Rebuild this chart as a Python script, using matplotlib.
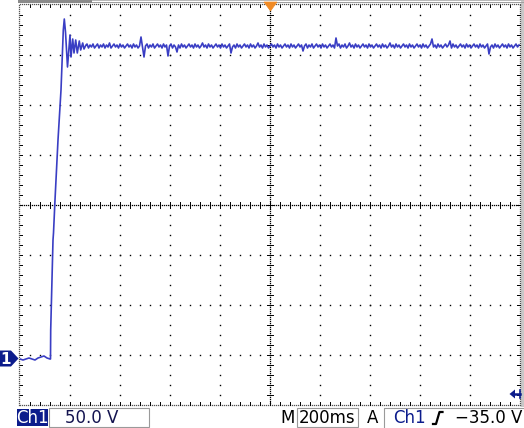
import numpy as np
import matplotlib
matplotlib.use("Agg")
import matplotlib.pyplot as plt
from matplotlib.patches import Polygon, Rectangle

# Scope screen geometry in pixels (layout only)
W, H = 524, 428
GX0, GX1, GY0, GY1 = 20, 520, 5, 405
DIV = 50

# Ch1 capture, 200 ms/div and 50 V/div, ground marker 1 at 0 V
T_LIM = (-1.0, 1.0)
V_LIM = (-46, 354)

# flat 0 V before the edge, one sample every 12 ms from the left edge
t_pre_start = -1.0
PRE_SAMPLE = 0.012
v_pre = [0, -1, 0, 1, 0, -1, 1, 2, 3, 1, 0]

# rising edge and ringing
t_edge = [-0.878, -0.8772, -0.874, -0.868, -0.866, -0.860, -0.848, -0.836,
          -0.8268, -0.8228, -0.818, -0.810, -0.800, -0.796, -0.7892, -0.784,
          -0.7772, -0.7708, -0.7628, -0.7572, -0.7492, -0.744, -0.736]
v_edge = [0, 29, 59, 119, 126, 159, 219, 269,
          329, 340, 327, 292, 324, 302, 320, 306,
          319, 306, 318, 309, 316, 310, 314]

# settled level with noise, one sample every 6 ms
t_flat_start = -0.732
FLAT_SAMPLE = 0.006
v_flat = [
    315, 311, 314, 312, 315, 311, 313, 315, 311, 314, 312, 315, 311, 314, 312, 316, 311, 313, 315, 312,
    314, 311, 315, 312, 314, 311, 313, 315, 312, 314, 311, 315, 312, 314, 311, 313, 322, 312, 302, 313,
    315, 311, 314, 312, 315, 311, 313, 315, 312, 314, 311, 315, 312, 314, 303, 313, 315, 311, 314, 312,
    307, 314, 311, 315, 312, 314, 311, 313, 315, 312, 314, 311, 315, 312, 314, 311, 313, 316, 312, 314,
    311, 315, 312, 314, 311, 313, 315, 312, 314, 311, 315, 312, 314, 311, 313, 315, 306, 312, 314, 311,
    315, 312, 314, 311, 313, 315, 312, 314, 311, 315, 312, 314, 311, 313, 316, 312, 314, 311, 315, 312,
    314, 311, 313, 315, 312, 314, 311, 315, 312, 314, 311, 313, 315, 312, 314, 311, 315, 312, 314, 311,
    313, 315, 312, 314, 308, 313, 315, 311, 314, 312, 315, 311, 313, 315, 312, 314, 311, 315, 312, 314,
    311, 313, 315, 312, 314, 311, 321, 313, 315, 311, 314, 312, 315, 311, 313, 316, 312, 314, 311, 315,
    312, 314, 311, 313, 315, 312, 314, 311, 315, 312, 314, 311, 313, 315, 312, 314, 311, 315, 312, 314,
    311, 313, 316, 312, 314, 311, 315, 312, 314, 311, 313, 315, 312, 314, 311, 315, 312, 314, 311, 313,
    315, 312, 314, 311, 315, 312, 314, 311, 313, 315, 320, 312, 314, 311, 315, 312, 314, 311, 313, 315,
    312, 314, 318, 311, 315, 312, 314, 311, 313, 315, 312, 314, 311, 315, 312, 314, 311, 313, 315, 312,
    314, 311, 315, 312, 314, 311, 313, 315, 305, 312, 314, 311, 315, 312, 314, 311, 313, 315, 312, 314,
    311, 315, 312, 314, 311, 313, 315, 312, 314,
]

ch_label = "Ch1"
volts_div = "50.0 V"
time_div = "200ms"
trig_level = "\u221235.0 V"

TRACE = "#3a3ec4"
NAVY = "#0c1c8c"
DOT = "black"

fig = plt.figure(figsize=(W / 100, H / 100), dpi=100)
fig.patch.set_facecolor("white")

# background layer in pixel units
bg = fig.add_axes([0, 0, 1, 1])
bg.set_xlim(0, W)
bg.set_ylim(H, 0)
bg.axis("off")


def dots(xs, ys, size=1.0, color=DOT):
    bg.plot(xs, ys, ls="none", marker="s", ms=size, mew=0, color=color)


# ordinary graticule lines, a dot every 1/5 division
for gx in range(GX0 + DIV, GX1, DIV):
    if gx == 270:
        continue
    ys = np.arange(GY0 + 10, GY1, 10)
    dots(np.full(len(ys), gx), ys)
for gy in range(GY0 + DIV, GY1, DIV):
    if gy == 205:
        continue
    xs = np.arange(GX0 + 10, GX1, 10)
    dots(xs, np.full(len(xs), gy))

# centre cross, dense dots with small ticks
xs = np.arange(GX0, GX1, 2)
dots(xs, np.full(len(xs), 205), size=0.9)
ys = np.arange(GY0, GY1, 2)
dots(np.full(len(ys), 270), ys, size=0.9)
for tx in range(GX0 + 10, GX1, 10):
    bg.plot([tx, tx], [202, 208], color=DOT, lw=0.7)
for ty in range(GY0 + 10, GY1, 10):
    bg.plot([267, 273], [ty, ty], color=DOT, lw=0.7)

# border, dense dots with inward ticks
xs = np.arange(GX0, GX1 + 1, 2)
dots(xs, np.full(len(xs), GY0 - 1), size=0.9, color="#555555")
dots(xs, np.full(len(xs), GY1), size=0.9, color="#555555")
ys = np.arange(GY0, GY1 + 1, 2)
dots(np.full(len(ys), GX0 - 1), ys, size=0.9, color="#555555")
dots(np.full(len(ys), GX1), ys, size=0.9, color="#555555")
for tx in range(GX0 + 10, GX1, 10):
    bg.plot([tx, tx], [GY0, GY0 + 2], color=DOT, lw=0.7)
    bg.plot([tx, tx], [GY1 - 3, GY1], color=DOT, lw=0.7)
for ty in range(GY0 + 10, GY1, 10):
    bg.plot([GX0, GX0 + 2], [ty, ty], color=DOT, lw=0.7)
    bg.plot([GX1 - 3, GX1], [ty, ty], color=DOT, lw=0.7)
bg.add_patch(Rectangle((GX1 + 1, 0), 3, GY1 + 2, color="#c8c8c8", lw=0))

# top status strip (cut off)
bg.add_patch(Rectangle((18, 0), 74, 3, color="#8a8a8a", lw=0))
bg.add_patch(Rectangle((92, 0), W - 92, 1, color="#b8b8b8", lw=0))
bg.add_patch(Rectangle((92, 2), W - 92, 1, color="#a0a0a0", lw=0))

# trigger position marker
bg.add_patch(Polygon([[264, 2], [277, 2], [270.5, 11]],
                     color="#f08a24", lw=0.5, zorder=5))

# ground marker for channel 1
bg.add_patch(Polygon([[0, 350.5], [11, 350.5], [18.5, 358.5], [11, 366.5], [0, 366.5]],
                     color=NAVY, lw=0, zorder=5))
bg.text(6, 359, "1", color="white", fontsize=11, fontweight="bold",
        ha="center", va="center", zorder=6)

# trigger level marker
bg.add_patch(Polygon([[509.5, 394], [515, 389.5], [515, 398.5]],
                     color=NAVY, lw=0, zorder=5))
bg.plot([514, 520], [394, 394], color=NAVY, lw=1.8, zorder=5)
bg.plot([520, 520], [390, 398], color=NAVY, lw=1.2, zorder=5)

# bottom readout
TY = 418
bg.add_patch(Rectangle((17, 409), 31, 17, color=NAVY, lw=0))
bg.text(32.5, TY, ch_label, color="white", fontsize=12, ha="center", va="center")
bg.add_patch(Rectangle((48.5, 407.5), 100, 19, fill=False, ec="#9a9a9a", lw=0.8))
bg.text(92, TY, volts_div, color="#141450", fontsize=12, ha="center", va="center")
bg.text(295, TY, "M", color="black", fontsize=12, ha="right", va="center")
bg.add_patch(Rectangle((296.5, 407.5), 61, 19, fill=False, ec="#9a9a9a", lw=0.8))
bg.text(327, TY, time_div, color="black", fontsize=12, ha="center", va="center")
bg.text(373, TY, "A", color="black", fontsize=12, ha="center", va="center")
bg.plot([383.5, 383.5, W], [428, 407.5, 407.5], color="#9a9a9a", lw=0.8)
bg.text(409, TY, ch_label, color=NAVY, fontsize=12, ha="center", va="center")
bg.plot([433, 436, 439.5, 442.5], [424, 424, 412, 412], color="black", lw=1.6)
bg.text(522, TY, trig_level, color="black", fontsize=12, ha="right", va="center")

# the trace itself
ax = fig.add_axes([GX0 / W, (H - GY1) / H, (GX1 - GX0) / W, (GY1 - GY0) / H])
ax.set_xlim(*T_LIM)
ax.set_ylim(*V_LIM)
ax.patch.set_alpha(0)
ax.axis("off")

t_pre = t_pre_start + PRE_SAMPLE * np.arange(len(v_pre))
t_flat = t_flat_start + FLAT_SAMPLE * np.arange(len(v_flat))
t_all = np.concatenate([t_pre, t_edge, t_flat])
v_all = np.concatenate([v_pre, v_edge, v_flat])
ax.plot(t_all, v_all, color=TRACE, lw=1.2)

fig.savefig("out.png", dpi=100)
